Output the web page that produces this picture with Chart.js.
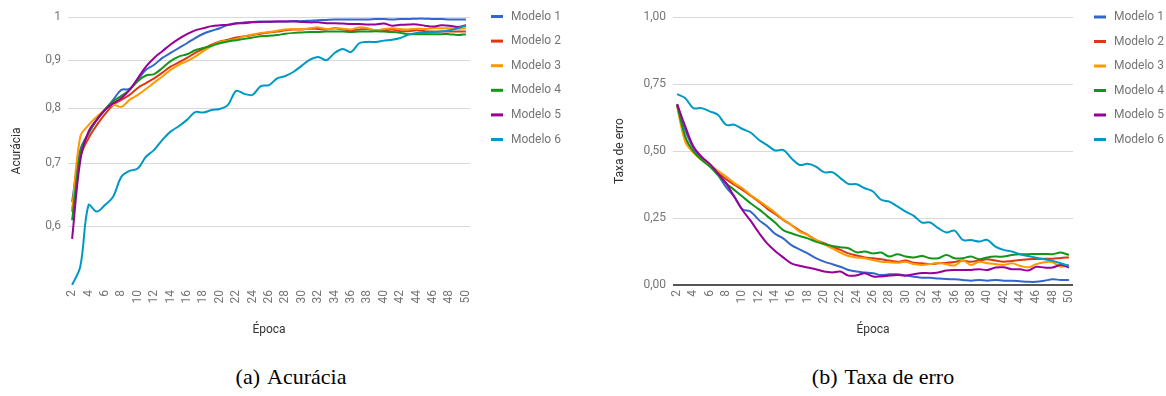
<!DOCTYPE html>
<html lang="pt">
<head>
<meta charset="utf-8">
<title>Acurácia e taxa de erro por época</title>
<script src="https://cdn.jsdelivr.net/npm/chart.js@4/dist/chart.umd.min.js"></script>
<style>
  html, body { margin: 0; padding: 0; background: #fff; }
  body { width: 1166px; height: 396px; position: relative; overflow: hidden; }
  .panel { position: absolute; top: 0; }
  .caption {
    position: absolute; top: 364px; font-family: "Liberation Serif", "Times New Roman", serif;
    font-size: 22px; color: #000; white-space: nowrap; transform: translateX(-50%);
  }
  .caption span { margin-left: 7px; }
</style>
</head>
<body>
<div class="panel" style="left:0px"><canvas id="acc" width="580" height="345"></canvas></div>
<div class="panel" style="left:580px"><canvas id="err" width="586" height="345"></canvas></div>
<div class="caption" style="left:291px">(a)<span>Acurácia</span></div>
<div class="caption" style="left:883px">(b)<span>Taxa de erro</span></div>
<script>
// Épocas de treino (eixo x)
const epochs = [2,3,4,5,6,7,8,9,10,11,12,13,14,15,16,17,18,19,20,21,22,23,24,25,26,27,28,29,30,31,32,33,34,35,36,37,38,39,40,41,42,43,44,45,46,47,48,49,50];
const modelNames = ['Modelo 1','Modelo 2','Modelo 3','Modelo 4','Modelo 5','Modelo 6'];
const modelColors = ['#3366cc','#dc3912','#ff9900','#109618','#990099','#0099c6'];

// Marcas dos eixos y
const accTicks = [0.6, 0.7, 0.8, 0.9, 1];
const errTicks = [0, 0.25, 0.5, 0.75, 1];

// Acurácia por época
const acc1 = [0.637,0.723,0.753,0.778,0.797,0.817,0.837,0.839,0.858,0.879,0.890,0.905,0.916,0.927,0.938,0.950,0.960,0.967,0.973,0.981,0.985,0.987,0.988,0.989,0.988,0.989,0.989,0.990,0.990,0.991,0.992,0.993,0.994,0.994,0.994,0.994,0.994,0.995,0.995,0.994,0.995,0.995,0.996,0.996,0.995,0.995,0.994,0.994,0.994];
const acc2 = [0.622,0.711,0.744,0.768,0.789,0.807,0.817,0.827,0.841,0.851,0.861,0.873,0.886,0.895,0.905,0.916,0.925,0.935,0.942,0.946,0.951,0.954,0.957,0.960,0.963,0.965,0.968,0.970,0.970,0.972,0.971,0.970,0.973,0.970,0.968,0.970,0.971,0.968,0.968,0.970,0.966,0.966,0.968,0.966,0.965,0.965,0.965,0.965,0.965];
const acc3 = [0.624,0.747,0.768,0.784,0.797,0.807,0.803,0.817,0.827,0.839,0.852,0.865,0.879,0.890,0.898,0.908,0.920,0.932,0.941,0.944,0.948,0.954,0.958,0.962,0.964,0.967,0.970,0.971,0.970,0.973,0.975,0.971,0.973,0.972,0.970,0.975,0.973,0.968,0.971,0.973,0.971,0.970,0.972,0.971,0.973,0.973,0.973,0.972,0.973];
const acc4 = [0.609,0.717,0.753,0.778,0.798,0.814,0.825,0.837,0.855,0.867,0.870,0.883,0.898,0.908,0.913,0.922,0.927,0.932,0.938,0.942,0.945,0.948,0.951,0.954,0.955,0.957,0.960,0.962,0.963,0.964,0.964,0.965,0.965,0.965,0.964,0.965,0.965,0.966,0.965,0.964,0.962,0.959,0.959,0.959,0.959,0.959,0.959,0.957,0.959];
const acc5 = [0.582,0.705,0.756,0.778,0.797,0.810,0.820,0.837,0.861,0.886,0.905,0.920,0.935,0.948,0.959,0.968,0.973,0.978,0.980,0.981,0.984,0.985,0.987,0.988,0.989,0.989,0.989,0.989,0.988,0.987,0.987,0.985,0.985,0.984,0.983,0.983,0.982,0.982,0.984,0.979,0.981,0.982,0.982,0.979,0.977,0.980,0.979,0.976,0.980];
const acc6 = [0.520,0.544,0.632,0.622,0.632,0.645,0.677,0.687,0.691,0.711,0.723,0.741,0.756,0.766,0.778,0.793,0.792,0.797,0.799,0.807,0.835,0.829,0.827,0.845,0.847,0.861,0.866,0.875,0.888,0.901,0.907,0.900,0.916,0.925,0.918,0.938,0.941,0.941,0.944,0.946,0.950,0.958,0.962,0.962,0.964,0.965,0.968,0.973,0.979];

// Taxa de erro por época
const err1 = [0.675,0.579,0.511,0.473,0.448,0.411,0.365,0.330,0.283,0.274,0.243,0.220,0.191,0.174,0.149,0.133,0.118,0.100,0.087,0.078,0.068,0.056,0.050,0.047,0.044,0.037,0.040,0.040,0.035,0.031,0.027,0.027,0.024,0.022,0.021,0.019,0.016,0.019,0.016,0.019,0.016,0.016,0.014,0.012,0.012,0.016,0.021,0.019,0.019];
const err2 = [0.672,0.548,0.498,0.469,0.445,0.420,0.395,0.374,0.355,0.333,0.311,0.286,0.265,0.243,0.224,0.203,0.187,0.168,0.156,0.143,0.131,0.118,0.110,0.103,0.100,0.096,0.091,0.087,0.091,0.083,0.081,0.078,0.081,0.083,0.086,0.091,0.087,0.091,0.096,0.091,0.087,0.090,0.093,0.096,0.097,0.098,0.098,0.101,0.103];
const err3 = [0.666,0.535,0.494,0.467,0.448,0.426,0.405,0.380,0.361,0.336,0.315,0.293,0.270,0.245,0.224,0.199,0.187,0.168,0.152,0.137,0.121,0.108,0.103,0.100,0.093,0.087,0.085,0.083,0.087,0.078,0.075,0.078,0.083,0.077,0.073,0.091,0.075,0.087,0.081,0.078,0.075,0.081,0.072,0.066,0.078,0.085,0.085,0.068,0.075];
const err4 = [0.672,0.554,0.498,0.467,0.442,0.411,0.380,0.355,0.330,0.305,0.283,0.258,0.233,0.205,0.193,0.183,0.174,0.162,0.153,0.146,0.141,0.137,0.122,0.125,0.118,0.121,0.106,0.115,0.106,0.103,0.108,0.100,0.100,0.112,0.100,0.100,0.106,0.096,0.103,0.106,0.106,0.112,0.115,0.115,0.116,0.116,0.115,0.121,0.112];
const err5 = [0.675,0.592,0.517,0.479,0.452,0.417,0.380,0.330,0.280,0.240,0.196,0.156,0.127,0.103,0.081,0.072,0.065,0.059,0.050,0.047,0.050,0.035,0.036,0.044,0.032,0.032,0.035,0.037,0.035,0.040,0.045,0.044,0.047,0.054,0.056,0.056,0.056,0.059,0.056,0.065,0.066,0.059,0.059,0.054,0.068,0.065,0.065,0.075,0.065];
const err6 = [0.712,0.697,0.660,0.660,0.648,0.635,0.598,0.598,0.582,0.569,0.542,0.523,0.502,0.504,0.473,0.448,0.452,0.442,0.421,0.421,0.399,0.377,0.376,0.361,0.349,0.318,0.311,0.293,0.274,0.258,0.233,0.233,0.212,0.196,0.203,0.168,0.168,0.162,0.168,0.143,0.131,0.125,0.115,0.108,0.102,0.096,0.090,0.081,0.071];

const accSeries = [acc1, acc2, acc3, acc4, acc5, acc6];
const errSeries = [err1, err2, err3, err4, err5, err6];

Chart.defaults.font.family = 'Roboto, "Noto Sans", sans-serif';
Chart.defaults.font.size = 12;

const TICK_COLOR = '#757575';
const TITLE_COLOR = '#333333';
const GRID_COLOR = '#d9d9d9';

// Legenda vertical desenhada ao lado da área do gráfico
const sideLegend = {
  id: 'sideLegend',
  afterDraw(chart, args, opts) {
    const ctx = chart.ctx;
    ctx.save();
    ctx.font = '12px Roboto, "Noto Sans", sans-serif';
    ctx.textBaseline = 'middle';
    ctx.textAlign = 'left';
    chart.data.datasets.forEach((ds, i) => {
      const y = opts.y + i * opts.step;
      ctx.fillStyle = ds.borderColor;
      ctx.fillRect(opts.x, y - 1.5, 12, 3);
      ctx.fillStyle = TICK_COLOR;
      ctx.fillText(ds.label, opts.x + 20, y);
    });
    ctx.restore();
  }
};

function makeDatasets(series) {
  return series.map((data, i) => ({
    label: modelNames[i],
    data: data,
    borderColor: modelColors[i],
    backgroundColor: modelColors[i],
    borderWidth: 2,
    pointRadius: 0,
    tension: 0.35,
    fill: false,
    order: series.length - i
  }));
}

function xScale(leftPadTitle) {
  return {
    type: 'category',
    offset: true,
    grid: { display: false, drawTicks: false },
    border: { display: false },
    ticks: {
      autoSkip: false,
      minRotation: 90,
      maxRotation: 90,
      padding: 5,
      color: TICK_COLOR,
      font: { size: 12 },
      callback(value, index) {
        const ep = epochs[index];
        return ep % 2 === 0 ? String(ep) : '';
      }
    },
    title: { display: true, text: 'Época', color: TITLE_COLOR, font: { size: 12 }, padding: { top: 0, bottom: 8 } },
    afterFit(scale) { scale.height = 60; }
  };
}

// Gráfico (a): acurácia, eixo y logarítmico
new Chart(document.getElementById('acc'), {
  type: 'line',
  data: { labels: epochs, datasets: makeDatasets(accSeries) },
  options: {
    responsive: false,
    animation: false,
    layout: { padding: { top: 17, right: 110, left: 0, bottom: 0 } },
    plugins: {
      legend: { display: false },
      tooltip: { enabled: false },
      sideLegend: { x: 491, y: 16.5, step: 24.6 }
    },
    scales: {
      x: xScale(),
      y: {
        type: 'logarithmic',
        min: 0.52,
        max: 1,
        border: { display: false },
        grid: { color: GRID_COLOR, lineWidth: 1, drawTicks: false },
        afterBuildTicks(scale) { scale.ticks = accTicks.map(v => ({ value: v })); },
        ticks: {
          padding: 7,
          color: TICK_COLOR,
          font: { size: 12 },
          callback(value) { return value === 1 ? '1' : value.toFixed(1).replace('.', ','); }
        },
        title: { display: true, text: 'Acurácia', color: TITLE_COLOR, font: { size: 12 }, padding: { top: 10, bottom: 0 } },
        afterFit(scale) { scale.width = 68; }
      }
    }
  },
  plugins: [sideLegend]
});

// Gráfico (b): taxa de erro, eixo y linear
new Chart(document.getElementById('err'), {
  type: 'line',
  data: { labels: epochs, datasets: makeDatasets(errSeries) },
  options: {
    responsive: false,
    animation: false,
    layout: { padding: { top: 17, right: 93, left: 0, bottom: 0 } },
    plugins: {
      legend: { display: false },
      tooltip: { enabled: false },
      sideLegend: { x: 514, y: 17, step: 24.5 }
    },
    scales: {
      x: xScale(),
      y: {
        type: 'linear',
        min: 0,
        max: 1,
        border: { display: false },
        grid: {
          drawTicks: false,
          color: ctx => (ctx.tick && ctx.tick.value === 0 ? '#555555' : GRID_COLOR),
          lineWidth: ctx => (ctx.tick && ctx.tick.value === 0 ? 2 : 1)
        },
        afterBuildTicks(scale) { scale.ticks = errTicks.map(v => ({ value: v })); },
        ticks: {
          padding: 7,
          color: TICK_COLOR,
          font: { size: 12 },
          callback(value) { return value.toFixed(2).replace('.', ','); }
        },
        title: { display: true, text: 'Taxa de erro', color: TITLE_COLOR, font: { size: 12 }, padding: { top: 33, bottom: 0 } },
        afterFit(scale) { scale.width = 93; }
      }
    }
  },
  plugins: [sideLegend]
});
</script>
</body>
</html>
